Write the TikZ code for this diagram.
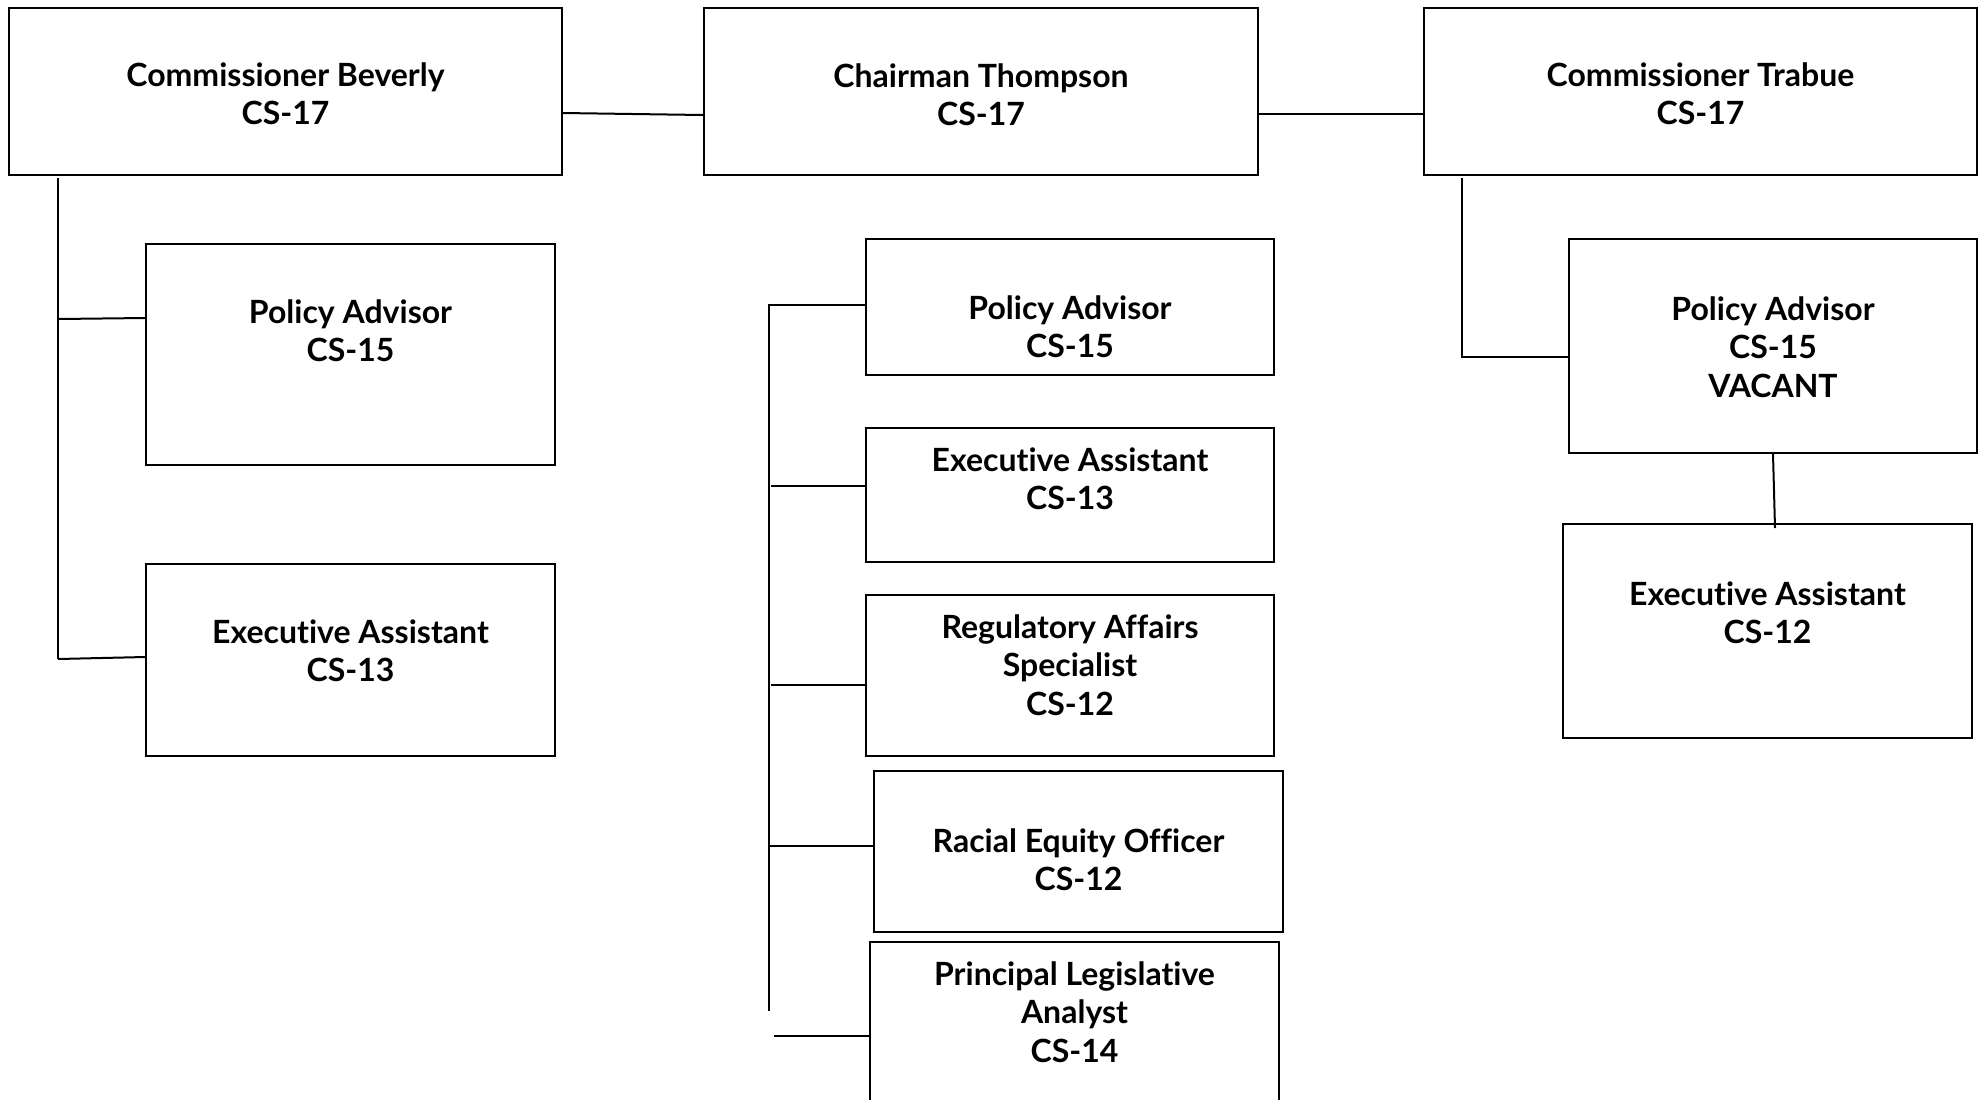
\documentclass[tikz,border=0pt]{standalone}
\usepackage{fontspec}
\setmainfont{Lato}[Ligatures=NoCommon]
\usetikzlibrary{fit}
\tikzset{
  every picture/.style={line width=1pt},
  box/.style={draw, inner sep=0pt, fit={#1}},
  txt/.style={font=\bfseries\fontsize{16}{19.3}\selectfont, align=center, anchor=base, inner sep=0pt},
}

\begin{document}
\begin{tikzpicture}[x=0.5pt, y=-0.5pt]
  \useasboundingbox (0,0) rectangle (1986,1099);
  \clip (0,0) rectangle (1986,1099);
  % top row
  \node[box={(9,8) (562,175)}] (bev) {};
  \node[box={(704,8) (1258,175)}] (thom) {};
  \node[box={(1424,8) (1977,175)}] (trab) {};
  \node[txt] (bevtxt) at ([yshift=-58.8pt]bev.north) {Commissioner Beverly\\CS-17};
  \node[txt] (thomtxt) at ([yshift=-59.3pt]thom.north) {Chairman Thompson\\CS-17};
  \node[txt] (trabtxt) at ([yshift=-58.8pt]trab.north) {Commissioner Trabue\\CS-17};
  \draw ([yshift=-10.75pt]bev.east) -- ([yshift=-11.75pt]thom.west);
  \draw ([yshift=-11.25pt]thom.east) -- ([yshift=-11.25pt]trab.west);

  % Beverly staff
  \node[box={(146,244) (555,465)}] (bevpol) {};
  \node[box={(146,564) (555,756)}] (bevexec) {};
  \node[txt] (bevpoltxt) at ([yshift=-59.3pt]bevpol.north) {Policy Advisor\\CS-15};
  \node[txt] (bevexectxt) at ([yshift=-59.3pt]bevexec.north) {Executive Assistant\\CS-13};
  \draw (58,178) -- (58,659);
  \draw (58,319) -- (bevpol.west |- 0,318);
  \draw (58,659) -- (bevexec.west |- 0,657);

  % Thompson staff
  \node[box={(866,239) (1274,375)}] (tpol) {};
  \node[box={(866,428) (1274,562)}] (texec) {};
  \node[box={(866,595) (1274,756)}] (treg) {};
  \node[box={(874,771) (1283,932)}] (trace) {};
  \node[box={(870,942) (1279,1140)}] (tleg) {};
  \node[txt] (tpoltxt) at ([yshift=-59.8pt]tpol.north) {Policy Advisor\\CS-15};
  \node[txt] (texectxt) at ([yshift=-41.3pt]texec.north) {Executive Assistant\\CS-13};
  \node[txt] (tregtxt) at ([yshift=-60.6pt]treg.north) {Regulatory Affairs\\Specialist\\CS-12};
  \node[txt] (tracetxt) at ([yshift=-60.3pt]trace.north) {Racial Equity Officer\\CS-12};
  \node[txt] (tlegtxt) at ([yshift=-60.6pt]tleg.north) {Principal Legislative\\Analyst\\CS-14};
  \draw (tpol.west |- 0,305) -| (769,1011);
  \draw (771,486) -- (texec.west |- 0,486);
  \draw (771,685) -- (treg.west |- 0,685);
  \draw (769,846) -- (trace.west |- 0,846);
  \draw (774,1036) -- (tleg.west |- 0,1036);

  % Trabue staff
  \node[box={(1569,239) (1977,453)}] (trpol) {};
  \node[box={(1563,524) (1972,738)}] (trexec) {};
  \node[txt] (trpoltxt) at ([yshift=-79.6pt]trpol.north) {Policy Advisor\\CS-15\\VACANT};
  \node[txt] (trexectxt) at ([yshift=-60.3pt]trexec.north) {Executive Assistant\\CS-12};
  \draw (1462,178) |- (trpol.west |- 0,357);
  \draw (trpol.south) -- (1775,528);
\end{tikzpicture}
\end{document}
